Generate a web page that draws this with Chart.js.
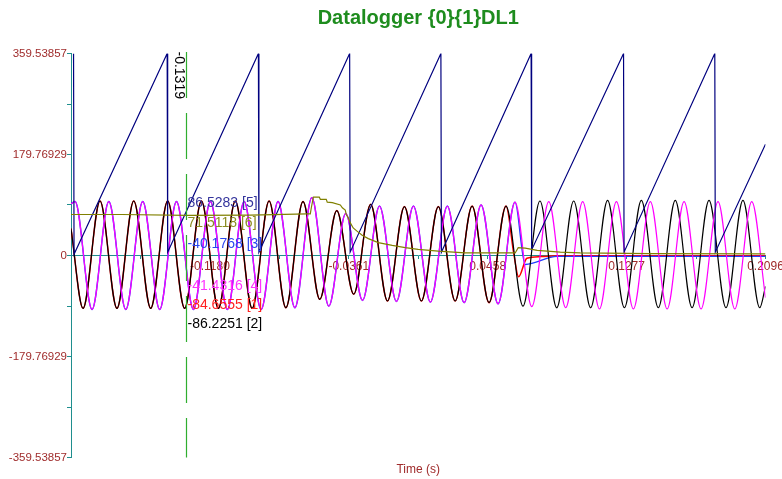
<!DOCTYPE html>
<html>
<head>
<meta charset="utf-8">
<title>Datalogger</title>
<script src="https://cdn.jsdelivr.net/npm/chart.js@4.4.1/dist/chart.umd.min.js"></script>
<style>
  html, body { margin: 0; padding: 0; background: #fff; }
  #wrap { width: 782px; height: 479px; }
</style>
</head>
<body>
<div id="wrap"><canvas id="chart" width="782" height="479"></canvas></div>
<script>
// Datalogger {0}{1}DL1 - six channels against time (s), with one cursor

// axis ticks (minor ticks have an empty label)
const xTicks = [-0.1999, -0.15895, -0.1180, -0.07705, -0.0361, 0.00485, 0.0458, 0.08675, 0.1277, 0.16865, 0.2096];
const xTickLabels = ['', '', '-0.1180', '', '-0.0361', '', '0.0458', '', '0.1277', '', '0.2096'];
const yTicks = [-359.53857, -269.6539275, -179.76929, -89.884645, 0, 89.884645, 179.76929, 269.6539275, 359.53857];
const yTickLabels = ['-359.53857', '', '-179.76929', '', '0', '', '179.76929', '', '359.53857'];

// [2] black - extrema of the wave
const blackT = [-0.1999, -0.1928, -0.1828, -0.1728, -0.1629, -0.1529, -0.1429, -0.1329, -0.1230, -0.1130,
  -0.1030, -0.0931, -0.0831, -0.0732, -0.0631, -0.0532, -0.0432, -0.0332, -0.0232, -0.0133,
  -0.0033, 0.0067, 0.0167, 0.0266, 0.0366, 0.0466, 0.0566, 0.0666, 0.0766, 0.0865,
  0.0965, 0.1065, 0.1165, 0.1264, 0.1364, 0.1464, 0.1564, 0.1663, 0.1763, 0.1863,
  0.1963, 0.2062, 0.2096];
const blackV = [48, -94, 97, -94, 97, -94, 97, -94, 97, -94,
  97, -94, 97, -93, 96, -78, 80, -69, 91, -81,
  87, -81, 87, -81, 88, -84, 88, -90, 97, -93,
  97, -93, 98, -93, 98, -93, 98, -93, 98, -93,
  98, -93, -55];

// [4] magenta - extrema of the wave
const magT = [-0.1999, -0.1975, -0.1875, -0.1776, -0.1676, -0.1576, -0.1476, -0.1377, -0.1277, -0.1177,
  -0.1077, -0.0978, -0.0878, -0.0778, -0.0679, -0.0579, -0.0479, -0.0379, -0.0280, -0.0180,
  -0.0080, 0.0020, 0.0120, 0.0220, 0.0319, 0.0419, 0.0519, 0.0619, 0.0718, 0.0818,
  0.0918, 0.1018, 0.1117, 0.1217, 0.1317, 0.1417, 0.1516, 0.1616, 0.1716, 0.1816,
  0.1915, 0.2015, 0.2096];
const magV = [92, 96, -96, 96, -96, 96, -96, 96, -96, 96,
  -96, 96, -96, 96, -93, 103, -90, 75, -80, 88,
  -82, 88, -83, 88, -84, 90, -86, 95, -91, 96,
  -93, 96, -95, 96, -95, 96, -95, 96, -95, 96,
  -95, 96, -75];

// [1] red follows [2] until the trip, then this tail
const redSplit = 0.0566;
const redTailT = [0.0612, 0.0640, 0.0689, 0.0767, 0.0885, 0.2096];
const redTailV = [3, -38, -5, -2, -0.5, -0.5];

// [3] blue follows [4] until the trip, then this tail
const blueSplit = 0.0619;
const blueTailT = [0.0679, 0.0867, 0.2096];
const blueTailV = [-16, -1.5, -1.5];

// [5] navy sawtooth (angle 0..360)
const sawT = [-0.1984, -0.1981, -0.1432, -0.1429, -0.0894, -0.0891, -0.0356, -0.0353, 0.0182, 0.0185,
  0.0714, 0.0717, 0.1259, 0.1262, 0.1797, 0.1800, 0.2096];
const sawV = [359.5, 2, 359.5, 6, 359.5, 6, 359.5, 6, 359.5, 6,
  359.5, 10, 359.5, 6, 359.5, 6, 198];

// [6] olive
const oliveT = [-0.1999, -0.1700, -0.1313, -0.0941, -0.0606, -0.0588, -0.0582, -0.0570, -0.0535, -0.0529,
  -0.0494, -0.0488, -0.0458, -0.0411, -0.0399, -0.0382, -0.0376, -0.0364, -0.0352, -0.0335,
  -0.0311, -0.0282, -0.0246, -0.0187, -0.0105, -0.0028, 0.0048, 0.0166, 0.0325, 0.0620,
  0.0638, 0.0679, 0.0750, 0.0886, 0.1003, 0.1416, 0.2096];
const oliveV = [73, 73, 71.5, 72, 74, 74, 85, 104, 104, 100,
  100, 95, 94, 90, 85, 81, 73, 67, 58, 49,
  43, 36, 30, 23, 18, 14, 11, 7.7, 4.8, 4.5,
  14, 13, 9, 6, 4.5, 3.5, 3];

// cursor readout
const cursorT = -0.1319;
const cursorChannels = [1, 2, 3, 4, 5, 6];
const cursorValues = [-84.6555, -86.2251, -40.1768, -41.4316, 86.5283, 71.5118];

const FONT = "'Liberation Sans', Arial, sans-serif";
const TEAL = '#1f8e8e';
const LABEL_RED = '#a02c2c';
const colors = {1: '#ff0000', 2: '#000000', 3: '#1f3cff', 4: '#ff00ff', 5: '#00007f', 6: '#808000'};
const textColors = {1: '#ff2020', 2: '#000000', 3: '#2a46f0', 4: '#ff33ff', 5: '#34349c', 6: '#8c8c22'};

function pts(ts, vs) {
    return ts.map((t, i) => ({x: t, y: vs[i]}));
}

const blackPts = pts(blackT, blackV);
const magPts = pts(magT, magV);
const redPts = blackPts.filter(p => p.x <= redSplit).concat(pts(redTailT, redTailV));
const bluePts = magPts.filter(p => p.x <= blueSplit).concat(pts(blueTailT, blueTailV));

function line(data, ch, width, order, smooth) {
    return {
        label: '[' + ch + ']',
        data: data,
        borderColor: colors[ch],
        borderWidth: width,
        pointRadius: 0,
        fill: false,
        order: order,
        tension: 0,
        cubicInterpolationMode: smooth ? 'monotone' : 'default'
    };
}

// green dashed cursor with its time and channel values
const cursorPlugin = {
    id: 'cursor',
    afterDatasetsDraw(chart) {
        const ctx = chart.ctx;
        const area = chart.chartArea;
        const xs = chart.scales.x;
        const ys = chart.scales.y;
        const cx = Math.round(xs.getPixelForValue(cursorT)) + 0.5;
        ctx.save();
        ctx.strokeStyle = '#2fae2f';
        ctx.lineWidth = 1.2;
        ctx.setLineDash([46, 15]);
        ctx.beginPath();
        ctx.moveTo(cx, area.top - 1.5);
        ctx.lineTo(cx, area.bottom);
        ctx.stroke();
        ctx.setLineDash([]);

        ctx.font = '14px ' + FONT;
        ctx.fillStyle = '#000';
        ctx.save();
        ctx.translate(cx - 1, area.top - 2);
        ctx.rotate(Math.PI / 2);
        ctx.textAlign = 'left';
        ctx.textBaseline = 'top';
        ctx.fillText(cursorT.toFixed(4), 0, 0);
        ctx.restore();

        // readouts sorted high to low, stacked round the zero line
        const rows = [-52, -32, -11, 31, 50, 69];
        const zeroY = ys.getPixelForValue(0);
        const order = cursorChannels.map((ch, i) => i).sort((a, b) => cursorValues[b] - cursorValues[a]);
        ctx.textAlign = 'left';
        ctx.textBaseline = 'middle';
        order.forEach((i, r) => {
            const ch = cursorChannels[i];
            ctx.fillStyle = textColors[ch];
            ctx.fillText(cursorValues[i].toFixed(4) + ' [' + ch + ']', cx + 1, zeroY + rows[r]);
        });
        ctx.restore();
    }
};

new Chart(document.getElementById('chart'), {
    type: 'line',
    data: {
        datasets: [
            line(pts(oliveT, oliveV), 6, 1.2, 0, false),
            line(pts(sawT, sawV), 5, 1.2, 1, false),
            line(magPts, 4, 1.2, 2, true),
            line(blackPts, 2, 1.2, 3, true),
            line(bluePts, 3, 1.4, 4, true),
            line(redPts, 1, 1.5, 5, true)
        ]
    },
    options: {
        responsive: false,
        animation: false,
        devicePixelRatio: 1,
        layout: {padding: {left: 0, right: 16.5, top: 0, bottom: 0}},
        plugins: {
            legend: {display: false},
            tooltip: {enabled: false},
            title: {
                display: true,
                text: 'Datalogger {0}{1}DL1',
                color: '#1e8c1e',
                fullSize: false,
                font: {family: FONT, size: 20, weight: 'bold'},
                padding: {top: 6, bottom: 23.5}
            },
            subtitle: {
                display: true,
                position: 'bottom',
                text: 'Time (s)',
                color: LABEL_RED,
                fullSize: false,
                font: {family: FONT, size: 12},
                padding: {top: 5.3, bottom: 1.8}
            }
        },
        scales: {
            x: {
                type: 'linear',
                min: xTicks[0],
                max: xTicks[xTicks.length - 1],
                position: {y: 0},
                border: {display: true, color: TEAL, width: 1},
                grid: {display: true, drawOnChartArea: false, drawTicks: true, tickLength: 3, color: TEAL},
                ticks: {
                    autoSkip: false,
                    maxRotation: 0,
                    padding: 1,
                    color: LABEL_RED,
                    font: {family: FONT, size: 12},
                    callback: (v, i) => xTickLabels[i]
                },
                afterBuildTicks(scale) {
                    scale.ticks = xTicks.map(v => ({value: v}));
                },
                afterFit(scale) {
                    scale.paddingLeft = 0;
                    scale.paddingRight = 0;
                }
            },
            y: {
                type: 'linear',
                min: yTicks[0],
                max: yTicks[yTicks.length - 1],
                position: 'left',
                border: {display: true, color: TEAL, width: 1},
                grid: {display: true, drawOnChartArea: false, drawTicks: true, tickLength: 4, color: TEAL},
                ticks: {
                    autoSkip: false,
                    padding: 0,
                    color: LABEL_RED,
                    font: {family: FONT, size: 11.5},
                    callback: (v, i) => yTickLabels[i]
                },
                afterBuildTicks(scale) {
                    scale.ticks = yTicks.map(v => ({value: v}));
                },
                afterFit(scale) {
                    scale.width = 71;
                }
            }
        }
    },
    plugins: [cursorPlugin]
});
</script>
</body>
</html>
